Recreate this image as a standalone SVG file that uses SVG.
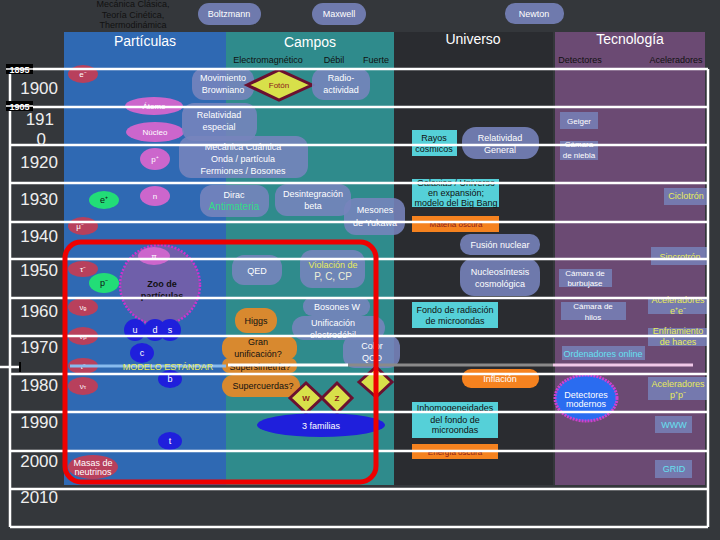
<svg xmlns="http://www.w3.org/2000/svg" width="720" height="540" viewBox="0 0 720 540">
<defs>
<style>
text{font-family:"Liberation Sans",Arial,sans-serif;text-anchor:middle}
.w{fill:#ffffff;font-size:9px}
.s{font-size:8px}
.k{fill:#111111;font-size:9px}
.y{fill:#e8ec5a;font-size:9px}
.c{fill:#66e0f0;font-size:9px}
.dr{fill:#8b1a1a;font-size:8px}
.hd{fill:#ffffff;font-size:14px}
.yr{fill:#eeeeee;font-size:17px;text-anchor:end}
.pill{fill:#7884bd;fill-opacity:0.88}
.tb{fill:#7884bd;fill-opacity:0.8}
.red{fill:#b8405c}
.orc{fill:#cc66cc}
.grn{fill:#22dd77}
.q{fill:#1f1fdc}
.cy{fill:#55d0d8}
.or{fill:#d8892f}
.or2{fill:#f5821f}
.dia{fill:#d8e04a;stroke:#6a1030;stroke-width:3}
.gl{stroke:#ffffff;stroke-width:2.5;fill:none}
</style>
</defs>
<rect x="0" y="0" width="720" height="540" fill="#34373b"/>

<g id="headers">
<text class="k" x="133" y="7" font-size="10">Mecánica Clásica,</text>
<text class="k" x="133" y="18" font-size="10">Teoría Cinética,</text>
<text class="k" x="133" y="28" font-size="10">Thermodinámica</text>
</g>
<g id="boltzmann"><rect class="pill" x="198" y="3" width="63" height="22" rx="11"/><text class="w" x="229" y="17">Boltzmann</text></g>
<g id="maxwell"><rect class="pill" x="312" y="3" width="54" height="22" rx="11"/><text class="w" x="339" y="17">Maxwell</text></g>
<g id="newton"><rect class="pill" x="505" y="3" width="59" height="21" rx="10"/><text class="w" x="534" y="17">Newton</text></g>

<g id="panels">
<rect x="64" y="32" width="162" height="453" fill="#2f69b3"/>
<rect x="226" y="32" width="168" height="453" fill="#2f8b8c"/>
<rect x="394" y="32" width="159" height="453" fill="#2a2c30"/>
<rect x="555" y="32" width="150" height="453" fill="#6b4a73"/>
<text class="hd" x="145" y="46">Partículas</text>
<text class="hd" x="310" y="47">Campos</text>
<text class="hd" x="473" y="44">Universo</text>
<text class="hd" x="630" y="44">Tecnología</text>
<text class="k" x="268" y="63">Electromagnético</text>
<text class="k" x="334" y="63">Débil</text>
<text class="k" x="376" y="63">Fuerte</text>
<text class="k" x="580" y="63">Detectores</text>
<text class="k" x="676" y="63">Aceleradores</text>
</g>

<!-- Particles -->
<g id="e-"><ellipse class="red" cx="83" cy="74" rx="15" ry="9"/><text class="w s" x="83" y="77">e⁻</text></g>
<g id="atomo"><ellipse class="orc" cx="154" cy="106" rx="29" ry="9"/><text class="w s" x="154" y="109">Átomo</text></g>
<g id="nucleo"><ellipse class="orc" cx="155" cy="132" rx="29" ry="10"/><text class="w s" x="155" y="135">Núcleo</text></g>
<g id="proton"><ellipse class="orc" cx="155" cy="159" rx="15" ry="11"/><text class="w s" x="155" y="162">p⁺</text></g>
<g id="neutron"><ellipse class="orc" cx="155" cy="196" rx="15" ry="10"/><text class="w s" x="155" y="199">n</text></g>
<g id="positron"><ellipse class="grn" cx="104" cy="200" rx="15" ry="9"/><text class="k s" x="104" y="203">e⁺</text></g>
<g id="muon"><ellipse class="red" cx="83" cy="226" rx="15" ry="9"/><text class="w s" x="80" y="229">μ⁻</text></g>
<g id="zoo"><circle cx="160" cy="285" r="40" fill="#7a5ea8" fill-opacity="0.85" stroke="#cc33cc" stroke-width="2.5" stroke-dasharray="2 1.5"/>
<text class="k" x="162" y="287" font-size="11" font-weight="bold">Zoo de</text><text class="k" x="162" y="299" font-size="11" font-weight="bold">partículas</text></g>
<g id="pion"><ellipse class="orc" cx="154" cy="256" rx="16" ry="9"/><text class="w s" x="154" y="259">π</text></g>
<g id="tau1"><ellipse class="red" cx="83" cy="269" rx="15" ry="8"/><text class="w s" x="83" y="272">τ⁻</text></g>
<g id="antiproton"><ellipse class="grn" cx="104" cy="283" rx="15" ry="10"/><text class="k s" x="104" y="286">p⁻</text></g>
<g id="nue"><ellipse class="red" cx="83" cy="307" rx="15" ry="9"/><text class="w s" x="83" y="310">νₑ</text></g>
<g id="numu"><ellipse class="red" cx="83" cy="336" rx="15" ry="9"/><text class="w s" x="83" y="339">ν<tspan font-size="6">μ</tspan></text></g>
<g id="tau2"><ellipse class="red" cx="83" cy="366" rx="15" ry="8"/><text class="w s" x="83" y="369">τ⁻</text></g>
<g id="nutau"><ellipse class="red" cx="83" cy="386" rx="15" ry="9"/><text class="w s" x="83" y="389">ν<tspan font-size="6">τ</tspan></text></g>
<g id="quarks">
<circle class="q" cx="135" cy="330" r="11"/><circle class="q" cx="155" cy="330" r="11"/><circle class="q" cx="170" cy="330" r="11"/>
<text class="w" x="135" y="333">u</text><text class="w" x="155" y="333">d</text><text class="w" x="170" y="333">s</text></g>
<g id="charm"><ellipse class="q" cx="142" cy="353" rx="12" ry="10"/><text class="w" x="142" y="356">c</text></g>
<g id="bottom"><ellipse class="q" cx="170" cy="379" rx="12" ry="9"/><text class="w" x="170" y="382">b</text></g>
<g id="top"><ellipse class="q" cx="170" cy="441" rx="12" ry="9"/><text class="w" x="170" y="444">t</text></g>
<g id="masas"><ellipse class="red" cx="93" cy="467" rx="25" ry="12"/><text class="w" x="93" y="466" font-size="7">Masas de</text><text class="w" x="93" y="475" font-size="7">neutrinos</text></g>

<!-- Campos -->
<g id="browniano"><rect class="pill" x="192" y="68" width="62" height="32" rx="12"/><text class="w" x="223" y="81" font-size="10">Movimiento</text><text class="w" x="223" y="93" font-size="10">Browniano</text></g>
<g id="foton"><polygon class="dia" points="247,85 279,70 312,85 279,100"/><text class="dr" x="279" y="88" font-size="6">Fotón</text></g>
<g id="radio"><rect class="pill" x="312" y="68" width="58" height="32" rx="12"/><text class="w" x="341" y="81" font-size="10">Radio-</text><text class="w" x="341" y="93" font-size="10">actividad</text></g>
<g id="relesp"><rect class="pill" x="182" y="103" width="75" height="38" rx="12"/><text class="w" x="219" y="118" font-size="10">Relatividad</text><text class="w" x="219" y="130" font-size="10">especial</text></g>
<g id="mecq"><rect class="pill" x="179" y="136" width="129" height="42" rx="12"/><text class="w" x="243" y="150" font-size="10">Mecánica Cuántica</text><text class="w" x="243" y="162" font-size="10">Onda / partícula</text><text class="w" x="243" y="174" font-size="10">Fermiones / Bosones</text></g>
<g id="dirac"><rect class="pill" x="200" y="185" width="69" height="32" rx="12"/><text class="w" x="234" y="198" font-size="10">Dirac</text><text x="234" y="210" font-size="10" fill="#33dd88">Antimateria</text></g>
<g id="beta"><rect class="pill" x="275" y="184" width="76" height="32" rx="12"/><text class="w" x="313" y="197" font-size="10">Desintegración</text><text class="w" x="313" y="209" font-size="10">beta</text></g>
<g id="yukawa"><rect class="pill" x="344" y="198" width="61" height="37" rx="12"/><text class="w" x="375" y="213" font-size="10">Mesones</text><text class="w" x="375" y="226" font-size="10">de Yukawa</text></g>
<g id="qed"><rect class="pill" x="232" y="255" width="50" height="30" rx="12"/><text class="w" x="257" y="274" font-size="10">QED</text></g>
<g id="violacion"><rect class="pill" x="300" y="250" width="65" height="38" rx="12"/><text class="y" x="333" y="268" font-size="10">Violación de</text><text x="333" y="280" font-size="10" fill="#f0f0d8">P, C, CP</text></g>
<g id="bosonesw"><rect class="pill" x="303" y="297" width="67" height="19" rx="9"/><text class="w" x="337" y="310" font-size="10">Bosones W</text></g>
<g id="electrodebil"><rect class="pill" x="292" y="316" width="93" height="24" rx="12"/><text class="w" x="333" y="326" font-size="10">Unificación</text><text class="w" x="333" y="338" font-size="10">electrodébil</text></g>
<g id="higgs"><rect class="or" x="235" y="308" width="42" height="25" rx="12"/><text class="k" x="256" y="324" font-size="10">Higgs</text></g>
<g id="qcd"><rect class="pill" x="343" y="335" width="57" height="33" rx="12"/><text class="w" x="372" y="349" font-size="10">Color</text><text class="w" x="372" y="361" font-size="10">QCD</text></g>
<g id="gut"><rect class="or" x="222" y="336" width="75" height="24" rx="10"/><text class="k" x="258" y="345" font-size="10">Gran</text><text class="k" x="258" y="357" font-size="10">unificación?</text></g>
<g id="susy"><rect class="or" x="222" y="358" width="75" height="15" rx="7"/><text class="k" x="260" y="370" font-size="10">Supersimetría?</text></g>
<g id="cuerdas"><rect class="or" x="222" y="375" width="78" height="22" rx="11"/><text class="k" x="263" y="389" font-size="10">Supercuerdas?</text></g>
<g id="w"><polygon class="dia" points="290,398 306,383 322,398 306,413"/><text class="dr" x="306" y="401" font-weight="bold">W</text></g>
<g id="z"><polygon class="dia" points="322,398 337,383 352,398 337,413"/><text class="dr" x="337" y="401" font-weight="bold">Z</text></g>
<g id="gluon"><polygon class="dia" points="359,382 376,367 392,382 376,397"/></g>
<g id="familias"><ellipse class="q" cx="321" cy="425" rx="64" ry="12"/><text class="w" x="321" y="429" font-size="10">3 familias</text></g>

<!-- Universo -->
<g id="rayos"><rect class="cy" x="412" y="130" width="45" height="26"/><text class="k s" x="434" y="141">Rayos</text><text class="k s" x="434" y="152">cosmicos</text></g>
<g id="relgen"><rect class="pill" x="462" y="127" width="77" height="32" rx="14"/><text class="w" x="500" y="141" font-size="10">Relatividad</text><text class="w" x="500" y="153" font-size="10">General</text></g>
<g id="galaxias"><rect class="cy" x="412" y="179" width="87" height="28"/><text class="k s" x="456" y="186">Galaxias / Universo</text><text class="k s" x="456" y="196">en expansión;</text><text class="k s" x="456" y="206">modelo del Big Bang</text></g>
<g id="materia"><rect class="or2" x="412" y="216" width="87" height="16"/><text class="dr" x="456" y="227">Materia oscura</text></g>
<g id="fusion"><rect class="pill" x="460" y="234" width="80" height="21" rx="10"/><text class="w" x="500" y="248" font-size="10">Fusión nuclear</text></g>
<g id="nucleosintesis"><rect class="pill" x="460" y="258" width="80" height="38" rx="14"/><text class="w" x="500" y="275" font-size="10">Nucleosíntesis</text><text class="w" x="500" y="287" font-size="10">cosmológica</text></g>
<g id="fondo"><rect class="cy" x="412" y="302" width="86" height="26"/><text class="k s" x="455" y="313">Fondo de radiación</text><text class="k s" x="455" y="324">de microondas</text></g>
<g id="inflacion"><rect class="or2" x="462" y="369" width="77" height="19" rx="9"/><text class="w" x="500" y="382" font-size="10">Inflación</text></g>
<g id="inhomo"><rect class="cy" x="412" y="402" width="86" height="36"/><text class="k s" x="455" y="411">Inhomogeneidades</text><text class="k s" x="455" y="423">del fondo de</text><text class="k s" x="455" y="433">microondas</text></g>
<g id="energia"><rect class="or2" x="412" y="444" width="86" height="15"/><text class="dr" x="455" y="455">Energía oscura</text></g>

<!-- Tecnologia -->
<g id="geiger"><rect class="tb" x="560" y="112" width="38" height="17"/><text class="w s" x="579" y="124">Geiger</text></g>
<g id="niebla"><rect class="tb" x="560" y="141" width="38" height="19"/><text class="w s" x="579" y="147">Cámara</text><text class="w s" x="579" y="158">de niebla</text></g>
<g id="ciclotron"><rect class="tb" x="664" y="188" width="43" height="17"/><text class="y s" x="686" y="199">Ciclotrón</text></g>
<g id="sincrotron"><rect class="tb" x="651" y="247" width="56" height="18"/><text class="y s" x="680" y="260">Sincrotrón</text></g>
<g id="burbujas"><rect class="tb" x="559" y="269" width="53" height="18"/><text class="w s" x="585" y="276">Cámara de</text><text class="w s" x="585" y="286">burbujase</text></g>
<g id="hilos"><rect class="tb" x="561" y="302" width="65" height="18"/><text class="w s" x="593" y="309">Cámara de</text><text class="w s" x="593" y="320">hilos</text></g>
<g id="acc-ee"><rect class="tb" x="648" y="298" width="59" height="16"/><text class="y s" x="678" y="303">Aceleradores</text><text class="y s" x="678" y="314">e⁺e⁻</text></g>
<g id="enfriamiento"><rect class="tb" x="648" y="328" width="59" height="18"/><text class="y s" x="678" y="334">Enfriamiento</text><text class="y s" x="678" y="345">de haces</text></g>
<g id="online"><rect class="tb" x="562" y="346" width="83" height="14"/><text class="c s" x="603" y="357">Ordenadores online</text></g>
<g id="modernos"><ellipse cx="586" cy="398" rx="31" ry="23" fill="#2a6cf0" stroke="#d040d0" stroke-width="3" stroke-dasharray="2 1"/><text class="w" x="586" y="398" font-size="7">Detectores</text><text class="w" x="586" y="407" font-size="7">modernos</text></g>
<g id="acc-pp"><rect class="tb" x="648" y="377" width="59" height="23"/><text class="y s" x="678" y="387">Aceleradores</text><text class="y s" x="678" y="398">p⁺p⁻</text></g>
<g id="www"><rect class="tb" x="655" y="416" width="37" height="17"/><text class="c s" x="674" y="428">WWW</text></g>
<g id="grid"><rect class="tb" x="655" y="460" width="37" height="18"/><text class="c s" x="674" y="472">GRID</text></g>

<!-- connectors / grid lines -->
<g id="connectors">
<path class="gl" d="M10,69H708M10,107H708M10,145H708M10,183H708M10,222H708M10,259H708M10,298H708M10,336H708M10,374H708M10,412H708M10,451H708M10,489H708M10,527H708M10,69V527M708,69V527"/>
<path d="M0,367H20" stroke="#ffffff" stroke-width="2.5"/>
<path d="M20,362V372" stroke="#000000" stroke-width="2"/>
<path d="M70,366H226" stroke="#88bbee" stroke-width="3"/>
<path d="M228,365H348" stroke="#ffffff" stroke-width="3"/>
<path d="M348,365H553" stroke="#8a8a8a" stroke-width="3"/>
<path d="M553,365H693" stroke="#f0c8e8" stroke-width="3"/>
<rect x="65" y="242" width="311" height="240" rx="16" fill="none" stroke="#ee0000" stroke-width="5"/>
</g>
<g id="modelo"><text x="168" y="370" font-size="9" fill="#e8ec5a">MODELO ESTÁNDAR</text></g>

<g id="years">
<rect x="6" y="64" width="27" height="10" fill="#000"/><text x="19.5" y="72.5" font-size="9" fill="#fff" font-weight="bold">1895</text>
<rect x="6" y="101" width="27" height="10" fill="#000"/><text x="19.5" y="109.5" font-size="9" fill="#fff" font-weight="bold">1905</text>
<path d="M6,69H33M6,106H33" stroke="#fff" stroke-width="1.5"/>
<text class="yr" x="58" y="94">1900</text>
<text class="yr" x="54" y="125">191</text>
<text class="yr" x="46" y="145">0</text>
<text class="yr" x="58" y="168">1920</text>
<text class="yr" x="58" y="205">1930</text>
<text class="yr" x="58" y="242">1940</text>
<text class="yr" x="58" y="276">1950</text>
<text class="yr" x="58" y="317">1960</text>
<text class="yr" x="58" y="353">1970</text>
<text class="yr" x="58" y="391">1980</text>
<text class="yr" x="58" y="428">1990</text>
<text class="yr" x="58" y="467">2000</text>
<text class="yr" x="58" y="503">2010</text>
</g>
</svg>
